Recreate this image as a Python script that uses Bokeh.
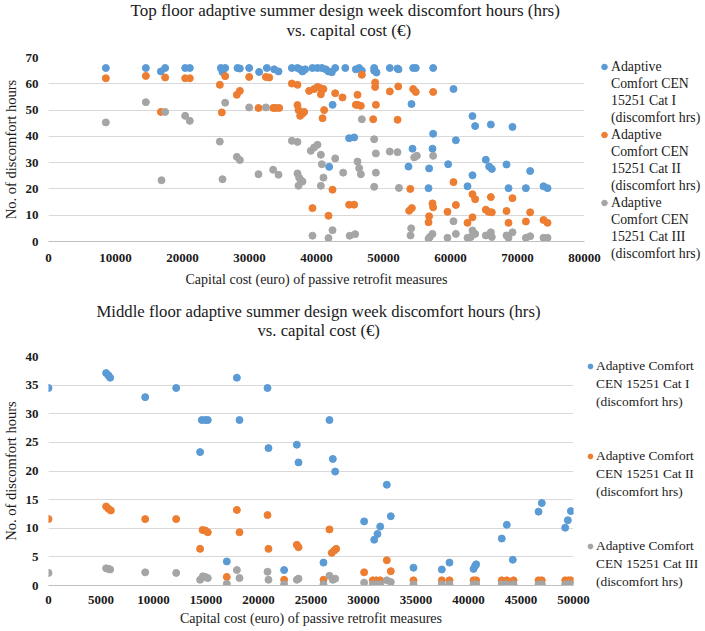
from bokeh.plotting import figure
from bokeh.models import Legend, LegendItem, Range1d, FixedTicker, Title
from bokeh.layouts import column
from bokeh.embed import file_html
from bokeh.resources import INLINE

FONT = "Liberation Serif"
BLUE = "#5B9BD5"
ORANGE = "#ED7D31"
GRAY = "#A5A5A5"
TXT = "#1a1a1a"

# ---------------- Top floor data ----------------
top_cost_cat1 = [8560, 14530, 16770, 17410, 20400, 21090, 25720, 25970, 26370, 28210, 28560, 29950,
                 31440, 32590, 33680, 34330, 36320, 37160, 37560, 37910, 38310, 39400, 40150, 40800,
                 41390, 41790, 42290, 42400, 41890, 42790, 44300, 44870, 45620, 45870, 46370, 46770,
                 48610, 48610, 48950, 50940, 52090, 52240, 54430, 54820, 57410, 60450, 54180, 63280,
                 63680, 66020, 69250, 57410, 60800, 54330, 57310, 53730, 56810, 59650, 65270, 65770,
                 66170, 68360, 71890, 63280, 56720, 62540, 68660, 71250, 73880, 74480]
top_hrs_cat1 = [66, 66, 64.7, 66, 66, 66, 66, 64.5, 66, 66, 65.8, 66,
                64.5, 66, 65.5, 64.7, 66, 66, 65.5, 64.7, 65.5, 66, 66, 66,
                65.5, 64.7, 64.4, 52, 28.4, 66, 66, 39.3, 39.6, 65.5, 66, 65,
                66, 65, 64.3, 66, 65.8, 65.5, 66, 66, 66, 58, 52.3, 47.7,
                43.9, 44.5, 43.6, 41, 38.5, 35.3, 35.3, 28.5, 27.8, 29.4, 31.1, 28.5,
                27.6, 29.3, 26.8, 25.2, 20.3, 21, 20.3, 20.3, 21, 20.3]

top_cost_cat2 = [8560, 14530, 16770, 17410, 20400, 21090, 25570, 25870, 26370, 28110, 28560, 29950,
                 31340, 32440, 32940, 33530, 33930, 34430, 36320, 37160, 37160, 37310, 37560, 37910,
                 38160, 38900, 39650, 40150, 40650, 41040, 40650, 40900, 41140, 42790, 43880, 39400,
                 41790, 42390, 44870, 45620, 46770, 46120, 45870, 46120, 46620, 48750, 48750, 48860,
                 48460, 50940, 52200, 52100, 54430, 54820, 57410, 54000, 60450, 63280, 63680, 66020,
                 69250, 53830, 54230, 57310, 57410, 56810, 56720, 59550, 60800, 62540, 63280, 65270,
                 65670, 66170, 68360, 68660, 71250, 71890, 73880, 74480]
top_hrs_cat2 = [62.1, 63, 49.3, 62.4, 62.1, 62.1, 59.6, 49.1, 62.9, 55.8, 57.3, 62.6,
                50.8, 62.6, 62.4, 50.8, 50.8, 50.8, 60.1, 59.6, 51.9, 50, 47.8, 48.7,
                49.3, 57.3, 58, 58.8, 58.3, 58, 56, 46.9, 50, 56.4, 54.8, 12.7,
                9.8, 19.7, 14, 14, 63.4, 55.8, 52, 52, 51.6, 60.5, 58.8, 52,
                46.5, 57.1, 59, 46.3, 58, 56.9, 56.9, 20, 22.6, 18, 16.1, 16.9,
                16.5, 11.7, 12.7, 14.5, 13, 9.6, 7.3, 11.3, 13.9, 7.1, 9.2, 12.1,
                11.3, 11.1, 11.6, 7.1, 7.6, 11.1, 8.2, 7.1]

top_cost_cat3 = [8560, 14530, 17410, 20400, 21090, 16870, 25570, 25970, 26370, 28110, 28560, 29950,
                 31340, 32440, 33530, 34330, 36320, 37160, 37160, 37410, 37660, 37910, 37310, 39150,
                 39650, 40150, 40650, 40800, 41040, 40650, 39400, 41790, 42390, 42790, 43980, 44950,
                 45770, 46770, 46120, 46370, 46620, 48610, 48860, 48860, 48610, 50940, 52090, 52300,
                 54580, 54980, 57410, 54130, 54030, 57310, 56910, 56720, 60450, 60800, 59550, 62540,
                 63030, 63280, 63680, 65270, 66020, 66170, 68360, 68660, 69250, 71250, 71890, 73880,
                 74480]
top_hrs_cat3 = [45.3, 53, 49.3, 47.8, 45.9, 23.3, 38, 23.7, 52.8, 32.2, 31, 51,
                25.6, 51, 27.3, 25.4, 38.3, 37.9, 25.9, 24.3, 23.3, 22.8, 21.2, 34.5,
                35.8, 36.8, 33, 29.4, 24.3, 21.2, 2.2, 1.3, 4.3, 31.6, 26.2, 2.2,
                2.8, 46.5, 30.4, 27.9, 25.6, 38.9, 33.5, 26.2, 20.8, 34.2, 34, 20.4,
                32, 32.6, 32.6, 5, 2.3, 2.9, 1.7, 1, 7.7, 2.9, 1.4, 1.4,
                1.7, 4.2, 2.9, 2.3, 3.5, 1.7, 2.3, 1.4, 3.5, 1.4, 2, 1.4,
                1.4]

# ---------------- Middle floor data ----------------
mid_cost_cat1 = [0, 5490, 5710, 5870, 9210, 12160, 14440, 14600, 14920, 15170, 16980, 17940,
                 18190, 20860, 20950, 22440, 23650, 23810, 26190, 26760, 27080, 27300, 30060, 31020,
                 31330, 31590, 32220, 32600, 34760, 37460, 38190, 40480, 40630, 40730, 43170, 43650,
                 44220, 46670, 46980, 49210, 49460, 49750]
mid_hrs_cat1 = [34.5, 37.1, 36.7, 36.3, 32.9, 34.5, 23.3, 28.9, 28.9, 28.9, 4.2, 36.3,
                28.9, 34.5, 24.0, 2.7, 24.6, 21.5, 4.0, 28.9, 22.1, 19.9, 11.2, 8.0,
                9.0, 10.3, 17.6, 12.1, 3.1, 2.8, 4.0, 2.9, 3.4, 3.7, 8.2, 10.6,
                4.5, 12.9, 14.4, 10.1, 11.4, 13.0]

mid_cost_cat2 = [0, 5490, 5710, 5940, 9210, 12160, 14440, 14670, 14920, 15170, 17940, 18190,
                 20860, 20950, 23650, 23810, 26760, 26980, 27210, 27400, 16980, 22440, 26190, 30060,
                 32220, 32600, 30890, 31210, 31590, 34760, 37460, 38190, 40480, 40730, 43170, 43650,
                 44290, 46670, 46980, 49210, 49520, 49750]
mid_hrs_cat2 = [11.6, 13.8, 13.4, 13.1, 11.6, 11.6, 6.4, 9.7, 9.6, 9.3, 13.2, 9.3,
                12.3, 6.4, 7.1, 6.7, 9.8, 5.7, 6.1, 6.4, 1.5, 1.0, 1.0, 2.3,
                4.4, 2.5, 0.9, 0.9, 0.9, 0.9, 0.9, 0.9, 0.9, 0.9, 0.9, 0.9,
                0.9, 0.9, 0.9, 0.9, 0.9, 0.9]

mid_cost_cat3 = [0, 5490, 5710, 5870, 9210, 12160, 14440, 14700, 14920, 15170, 16980, 17940,
                 18190, 20860, 20950, 22440, 23650, 23810, 26190, 26760, 27080, 27300, 30060, 30890,
                 31210, 31590, 32220, 32600, 34760, 37460, 38190, 40480, 40730, 43170, 43650, 44290,
                 46670, 46980, 49210, 49520, 49750]
mid_hrs_cat3 = [2.2, 3.0, 2.9, 2.8, 2.3, 2.2, 1.0, 1.6, 1.5, 1.3, 0.3, 2.7,
                1.3, 2.4, 1.0, 0.2, 1.0, 1.2, 0.2, 1.7, 1.0, 1.2, 0.5, 0.2,
                0.2, 0.2, 0.9, 0.6, 0.2, 0.2, 0.2, 0.2, 0.2, 0.2, 0.2, 0.2,
                0.2, 0.2, 0.2, 0.2, 0.2]

top_title_lines = ["Top floor adaptive summer design week discomfort hours (hrs)",
                   "vs. capital cost (\u20ac)"]
mid_title_lines = ["Middle floor adaptive summer design week discomfort hours (hrs)",
                   "vs. capital cost (\u20ac)"]
x_label = "Capital cost (euro) of passive retrofit measures"
y_label = "No. of discomfort hours"
top_legend_lines = [["Adaptive", "Comfort CEN", "15251 Cat I", "(discomfort hrs)"],
                    ["Adaptive", "Comfort CEN", "15251 Cat II", "(discomfort hrs)"],
                    ["Adaptive", "Comfort CEN", "15251 Cat III", "(discomfort hrs)"]]
mid_legend_lines = [["Adaptive Comfort", "CEN 15251 Cat I", "(discomfort hrs)"],
                    ["Adaptive Comfort", "CEN 15251 Cat II", "(discomfort hrs)"],
                    ["Adaptive Comfort", "CEN 15251 Cat III", "(discomfort hrs)"]]
top_xticks = list(range(0, 80001, 10000))
top_yticks = list(range(0, 71, 10))
mid_xticks = list(range(0, 50001, 5000))
mid_yticks = list(range(0, 41, 5))


def make_fig(xmax, ymax, xticks, yticks, fw, fh, bl, br, bt, bb,
             title_lines, tsize, offs, stands, xstand):
    p = figure(frame_width=fw, frame_height=fh, min_border_left=bl, min_border_right=br,
               min_border_top=bt, min_border_bottom=bb,
               x_range=Range1d(0, xmax), y_range=Range1d(0, ymax),
               output_backend="svg", toolbar_location=None, title=None)
    # second title line first (closest to the frame), then the first line above it
    for i in (1, 0):
        p.add_layout(Title(text=title_lines[i], align="left", offset=offs[i],
                           standoff=stands[i], text_font=FONT, text_font_size=tsize,
                           text_font_style="normal", text_color=TXT), "above")
    p.outline_line_color = None
    p.background_fill_color = "white"
    p.border_fill_color = "white"
    p.xgrid.grid_line_color = None
    p.ygrid.grid_line_color = "#d9d9d9"
    p.ygrid.grid_line_width = 1
    p.xaxis.ticker = FixedTicker(ticks=xticks)
    p.yaxis.ticker = FixedTicker(ticks=yticks)
    for ax in (p.xaxis[0], p.yaxis[0]):
        ax.major_tick_line_color = None
        ax.minor_tick_line_color = None
        ax.major_tick_out = 0
        ax.major_tick_in = 0
        ax.minor_tick_out = 0
        ax.minor_tick_in = 0
        ax.major_label_text_font = FONT
        ax.major_label_text_font_size = "13px"
        ax.major_label_text_font_style = "bold"
        ax.major_label_text_color = TXT
        ax.axis_label_text_font = FONT
        ax.axis_label_text_font_style = "normal"
        ax.axis_label_text_color = TXT
    p.xaxis.axis_line_color = "#bfbfbf"
    p.yaxis.axis_line_color = None
    p.xaxis.axis_label = x_label
    p.xaxis.axis_label_text_font_size = "14px"
    p.xaxis.major_label_standoff = xstand[0]
    p.xaxis.axis_label_standoff = xstand[1]
    p.yaxis.major_label_standoff = 10
    # y axis title as a side title so that it can sit close to the page edge
    p.add_layout(Title(text=y_label, align="center", vertical_align="top", standoff=4,
                       text_font=FONT, text_font_size="14.5px", text_font_style="normal",
                       text_color=TXT), "left")
    return p


def add_series(p, xs, ys, color):
    return p.scatter(xs, ys, size=7, fill_color=color, line_color=color, marker="circle")


def make_legend(p, renderers, groups, blanks, item_h, loc, standoff, fsize, gw):
    dummy = p.scatter([-1e6], [-1e6], size=1, fill_alpha=0, line_alpha=0)
    items = []
    for gi, (r, lines) in enumerate(zip(renderers, groups)):
        items.append(LegendItem(label=lines[0], renderers=[r]))
        for ln in lines[1:]:
            items.append(LegendItem(label=ln, renderers=[dummy]))
        if gi < len(groups) - 1:
            for _ in range(blanks):
                items.append(LegendItem(label=" ", renderers=[dummy]))
    leg = Legend(items=items, location=loc, spacing=0, padding=0, margin=0,
                 glyph_width=gw, glyph_height=item_h, label_height=8, label_width=10,
                 label_standoff=standoff,
                 label_text_font=FONT, label_text_font_size=fsize,
                 label_text_color=TXT, border_line_color=None, background_fill_alpha=0)
    p.add_layout(leg, "right")
    return leg


p1 = make_fig(80000, 70, top_xticks, top_yticks, 536, 184, 46, 123, 57, 51,
              top_title_lines, "17px", (82, 238), (-37, 35), (12, 7))
r11 = add_series(p1, top_cost_cat1, top_hrs_cat1, BLUE)
r12 = add_series(p1, top_cost_cat2, top_hrs_cat2, ORANGE)
r13 = add_series(p1, top_cost_cat3, top_hrs_cat3, GRAY)
make_legend(p1, [r11, r12, r13], top_legend_lines, 0, 17, (13, -21), 0, "13.8px", 14)

p2 = make_fig(50000, 40, mid_xticks, mid_yticks, 525, 229, 45, 135, 64, 46,
              mid_title_lines, "16.7px", (48, 209), (-36, 33), (10, 4))
r21 = add_series(p2, mid_cost_cat1, mid_hrs_cat1, BLUE)
r22 = add_series(p2, mid_cost_cat2, mid_hrs_cat2, ORANGE)
r23 = add_series(p2, mid_cost_cat3, mid_hrs_cat3, GRAY)
make_legend(p2, [r21, r22, r23], mid_legend_lines, 2, 18, (11, -6), 0, "13.4px", 12)

layout = column(p1, p2, spacing=0)
open("out.html", "w").write(file_html(layout, INLINE))
